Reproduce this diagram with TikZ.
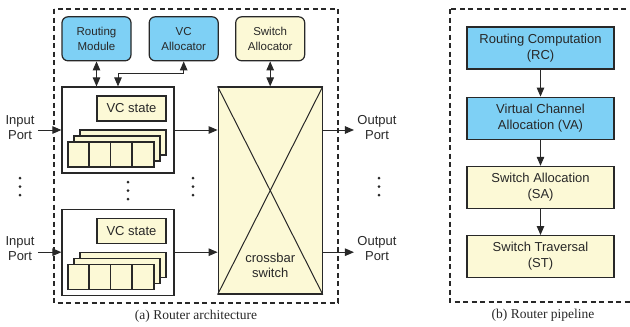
\documentclass[tikz,border=0pt]{standalone}
\usepackage{fontspec}
\setmainfont{Liberation Serif}
\setsansfont{Liberation Sans}
\usetikzlibrary{positioning,arrows.meta,calc}
\definecolor{rtblue}{RGB}{126,208,245}
\definecolor{rtyellow}{RGB}{252,249,214}
\definecolor{rtline}{RGB}{40,40,40}

\begin{document}
\begin{tikzpicture}[
        x=1pt, y=-1pt,
        every node/.style={font=\sffamily\fontsize{13}{15}\selectfont, text=rtline},
        topbox/.style={draw=rtline, rounded corners=6pt, line width=1.2pt, minimum width=69pt, minimum height=44pt, inner sep=1pt, align=center, font=\sffamily\fontsize{11.5}{15}\selectfont},
        unitbox/.style={draw=rtline, line width=1.2pt, fill=white, minimum width=112pt, minimum height=86pt},
        statebox/.style={draw=rtline, line width=1.2pt, fill=rtyellow, minimum width=69pt, minimum height=25pt},
        bufbox/.style={draw=rtline, line width=1.2pt, fill=rtyellow, minimum width=86pt, minimum height=25pt, anchor=south west},
        cellline/.style={line width=1.2pt, rtline},
        xbar/.style={draw=rtline, line width=1.2pt, fill=rtyellow, minimum width=104pt, minimum height=207pt},
        xline/.style={line width=1pt, rtline},
        stagebox/.style={draw=rtline, line width=1.2pt, minimum width=147pt, minimum height=42pt, align=center, font=\sffamily\fontsize{13}{16}\selectfont},
        portlabel/.style={align=center},
        frame/.style={draw=rtline, line width=1.2pt, dash pattern=on 5pt off 3.5pt},
        caption/.style={font=\rmfamily\fontsize{13.5}{16}\selectfont},
        arrow/.style={-{Triangle[length=9pt,width=7.5pt]}, line width=1pt, rtline},
        dblarrow/.style={{Triangle[length=9pt,width=7.5pt]}-{Triangle[length=9pt,width=7.5pt]}, line width=1pt, rtline}
    ]
        \useasboundingbox (0,0) rectangle (630,327);

        % Dashed frames
        \draw[frame] (54,9) rectangle (338,303);
        \draw[frame] (450,9) rectangle (636,302);

        % Input units
        \node[unitbox] (in1) at (118,130) {};
        \node[unitbox, below=35pt of in1] (in2) {};
        \foreach \u in {in1,in2} {
            \node[statebox, anchor=north east] (\u-vc) at ([xshift=-8pt,yshift=-9pt]\u.north east) {VC state};
            \node[bufbox] (\u-b3) at ([xshift=18pt,yshift=18pt]\u.south west) {};
            \node[bufbox] (\u-b2) at ([xshift=12pt,yshift=12pt]\u.south west) {};
            \node[bufbox] (\u-b1) at ([xshift=6pt,yshift=6pt]\u.south west) {};
            \foreach \i in {1,2,3}
                \draw[cellline] ([xshift=\i*21.5pt]\u-b1.south west) -- ([xshift=\i*21.5pt]\u-b1.north west);
        }

        % Crossbar
        \node[xbar, anchor=north west] (cb) at ([xshift=43pt]in1.north east) {};
        \draw[xline] (cb.north west) -- (cb.south east);
        \draw[xline] (cb.north east) -- (cb.south west);
        \node[align=center] (cblabel) at ([yshift=29pt]cb.south) {crossbar\\switch};

        % Allocators
        \node[topbox, fill=rtblue, anchor=south west] (rm) at ([yshift=25pt]in1.north west) {Routing\\Module};
        \node[topbox, fill=rtblue, right=17pt of rm] (vca) {VC\\Allocator};
        \node[topbox, fill=rtyellow, above=25pt of cb] (sa) {Switch\\Allocator};

        \draw[dblarrow] (rm.south) -- (rm.south |- in1.north);
        \draw[dblarrow] (vca.south) |- ([yshift=13pt]in1.north) -- (in1.north);
        \draw[dblarrow] (sa) -- (cb);

        % Ports
        \node[portlabel] (ip1) at (20,128) {Input\\Port};
        \node[portlabel] (ip2) at (20,249) {Input\\Port};
        \node[portlabel] (op1) at (377,128) {Output\\Port};
        \node[portlabel] (op2) at (377,249) {Output\\Port};
        \foreach \k in {1,2} {
            \draw[arrow] (in\k.west -| ip\k.east) -- (in\k.west);
            \draw[arrow] (in\k.east) -- (in\k.east -| cb.west);
            \draw[arrow] (in\k.east -| cb.east) -- (in\k.east -| op\k.west);
        }

        % Dots
        \foreach \x/\y in {20/186.5, 128/190.5, 193/186.5, 379/186.5}
            \foreach \j in {-1,0,1}
                \fill[rtline] (\x,\y+\j*8.5) circle (1.5pt);

        % Pipeline
        \node[stagebox, fill=rtblue] (rc) at (540.5,48) {Routing Computation\\(RC)};
        \node[stagebox, fill=rtblue, below=27pt of rc] (va) {Virtual Channel\\Allocation (VA)};
        \node[stagebox, fill=rtyellow, below=26pt of va] (swa) {Switch Allocation\\(SA)};
        \node[stagebox, fill=rtyellow, below=26pt of swa] (st) {Switch Traversal\\(ST)};
        \draw[arrow] (rc) -- (va);
        \draw[arrow] (va) -- (swa);
        \draw[arrow] (swa) -- (st);

        % Captions
        \node[caption] (capa) at (196,316) {(a) Router architecture};
        \node[caption] (capb) at (543,315) {(b) Router pipeline};

    \end{tikzpicture}
\end{document}
